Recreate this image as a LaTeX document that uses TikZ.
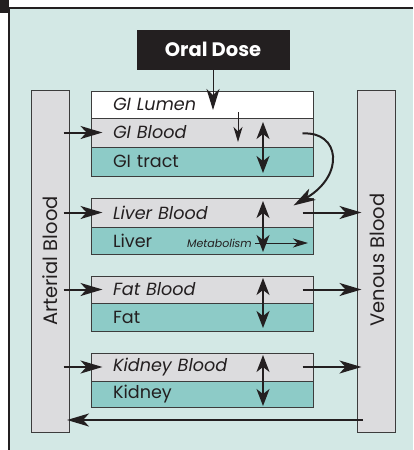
\documentclass[tikz,border=0pt]{standalone}
\usepackage{fontspec}
\setmainfont{Poppins}
\usetikzlibrary{arrows.meta,calc}
\definecolor{bgc}{RGB}{211,232,229}
\definecolor{greyc}{RGB}{220,220,222}
\definecolor{tealc}{RGB}{141,203,199}
\definecolor{ink}{RGB}{35,31,32}
\definecolor{edge}{RGB}{60,60,60}
\begin{document}
\begin{tikzpicture}[x=1pt,y=-1pt,
  box/.style={draw=edge,line width=1pt,minimum width=222pt,text width=178pt,align=left,inner xsep=22pt,inner ysep=0pt,text=ink,font=\fontsize{17.6}{19}\selectfont},
  bar/.style={draw=edge,line width=1pt,fill=greyc,minimum width=38pt,minimum height=342pt,inner sep=0pt},
  bigarr/.style={draw=ink,line width=2pt,-{Stealth[length=22pt,width=13pt,inset=6pt]}},
  thinarr/.style={draw=ink,line width=1pt,-{Stealth[length=21pt,width=13pt,inset=6pt]}},
  smallarr/.style={draw=ink,line width=1pt,-{Stealth[length=15pt,width=9pt,inset=4.5pt]}},
  dblarr/.style={draw=ink,line width=1.5pt,{Stealth[length=17pt,width=13pt,inset=5pt]}-{Stealth[length=17pt,width=13pt,inset=5pt]}}
]
\useasboundingbox (0,0) rectangle (413,450);
\fill[bgc] (9,8) rectangle (413,450);
\fill[ink] (0,0) rectangle (9,13);
\draw[ink,line width=2pt] (413,8) -- (9,8) -- (9,450);

% bars
\node[bar] (art) at (50,261) {};
\node[bar] (ven) at (376,261) {};
\node[rotate=90,text=ink,font=\fontsize{19.5}{21}\selectfont] (artT) at (50,261) {Arterial Blood};
\node[rotate=90,text=ink,font=\fontsize{19.5}{21}\selectfont] (venT) at (377,260) {Venous Blood};

% oral dose
\node[fill=ink,draw=ink,minimum width=152pt,minimum height=39pt,inner sep=0pt,text=white,font=\fontsize{19.5}{21}\bfseries\selectfont] (oral) at (213,49.5) {Oral Dose};

% compartments
\node[box,fill=white,minimum height=27pt] (lumen) at (202,104.5) {\itshape GI Lumen};
\node[box,fill=greyc,minimum height=29pt] (gib) at (202,132.5) {\itshape GI Blood};
\node[box,fill=tealc,minimum height=29pt] (git) at (202,161.5) {GI tract};
\node[box,fill=greyc,minimum height=29pt] (liverb) at (202,212.5) {\itshape Liver Blood};
\node[box,fill=tealc,minimum height=27pt] (liver) at (202,240.5) {Liver};
\node[box,fill=greyc,minimum height=27pt] (fatb) at (202,289.5) {\itshape Fat Blood};
\node[box,fill=tealc,minimum height=28pt] (fat) at (202,317) {Fat};
\node[box,fill=greyc,minimum height=28pt] (kidb) at (202,367) {\itshape Kidney Blood};
\node[box,fill=tealc,minimum height=26pt] (kid) at (202,394) {Kidney};
\node[anchor=east,inner sep=0pt,text=ink,font=\fontsize{11}{12}\itshape\selectfont] (met) at (252,243) {Metabolism};

% free ends
\coordinate (lumenIn) at (213,110);
\coordinate (lbTop) at (238,112);
\coordinate (lbBot) at (238,142);
\coordinate (metA) at (255,243);
\coordinate (metB) at (308,243);
\coordinate (retR) at (363,420);
\coordinate (retL) at (67,420);

% oral dose arrow
\draw[thinarr] (oral.south) -- (lumenIn);
\draw[smallarr] (lbTop) -- (lbBot);

% arterial inputs
\foreach \b in {gib,liverb,fatb,kidb}{
  \draw[bigarr] ([xshift=-6pt]art.east |- \b.center) -- ([xshift=12pt]\b.west);
}
% venous outputs
\foreach \b in {liverb,fatb,kidb}{
  \draw[bigarr] ([xshift=-11pt]\b.east) -- ([xshift=5pt]ven.west |- \b.center);
}
% GI blood to liver blood
\draw[bigarr] ([xshift=-11pt,yshift=-1pt]gib.east) .. controls (340,131) and (345,175) .. ([xshift=-20pt,yshift=-8pt]liverb.north east);

% exchange arrows
\draw[dblarr] (263,122) -- (263,173);
\draw[dblarr] (263,201) -- (263,252);
\draw[dblarr] (263,278) -- (263,328);
\draw[dblarr] (263,355) -- (263,406);
\draw[smallarr] (metA) -- (metB);

% return
\draw[bigarr] (retR) -- (retL);
\end{tikzpicture}
\end{document}
